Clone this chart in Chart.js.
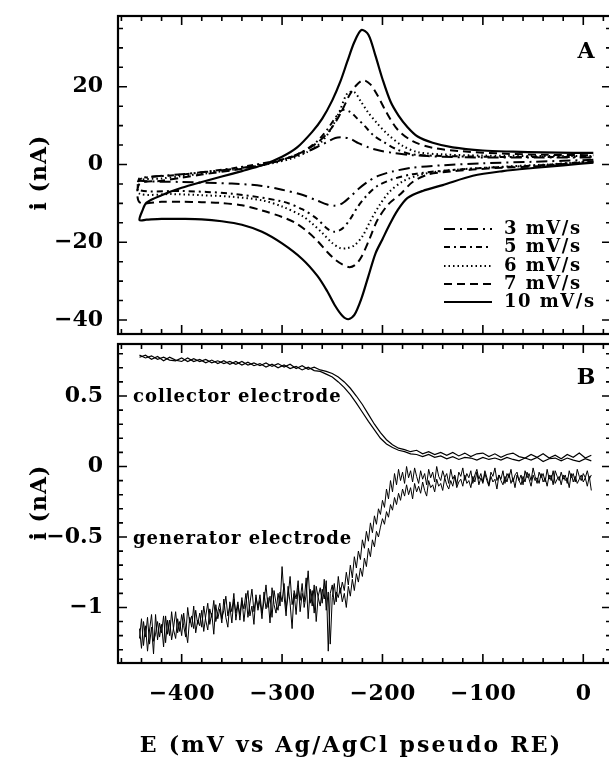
<!DOCTYPE html>
<html>
<head>
<meta charset="utf-8">
<script src="https://cdn.jsdelivr.net/npm/chart.js@4.4.1/dist/chart.umd.min.js"></script>
<style>
  html, body { margin: 0; padding: 0; background: #fff; overflow: hidden; width: 609px; height: 767px; }
  #boxA { position: absolute; left: 0; top: 0; }
  #boxB { position: absolute; left: 0; top: 340px; }
</style>
</head>
<body>
<div id="boxA"><canvas id="chartA" width="620" height="340"></canvas></div>
<div id="boxB"><canvas id="chartB" width="620" height="427"></canvas></div>
<script>
// ---- panel A: cyclic voltammograms (E in mV, i in nA), scan starts at +10 going negative ----
const scanRates = ['3 mV/s', '5 mV/s', '6 mV/s', '7 mV/s', '10 mV/s'];

const cv3E = [10,-50,-100,-140,-170,-190,-205,-215,-224,-232,-240,-248,-255,-265,-280,-300,-320,-350,-400,-442,
              -442,-400,-350,-320,-300,-280,-265,-255,-247,-240,-232,-224,-214,-203,-190,-170,-140,-100,-50,10];
const cv3I = [1.2,0.7,0.3,-0.2,-0.8,-1.8,-3.0,-4.5,-6.3,-8.3,-10.0,-10.6,-10.3,-9.3,-7.8,-6.5,-5.5,-4.9,-4.5,-4.2,
              -3.5,-2.5,-1.2,0.0,1.2,2.8,4.5,5.8,6.8,7.0,6.6,5.5,4.4,3.6,3.0,2.4,2.0,1.8,1.8,1.8];

const cv5E = [10,-50,-100,-140,-170,-190,-205,-215,-225,-232,-240,-248,-255,-265,-280,-300,-350,-400,-442,
              -442,-400,-350,-300,-280,-265,-255,-247,-240,-232,-225,-218,-209,-199,-185,-170,-140,-100,-50,10];
const cv5I = [0.8,-0.3,-0.9,-1.6,-2.5,-3.8,-5.5,-7.8,-11.0,-14.0,-16.5,-17.3,-16.5,-14.0,-11.5,-9.5,-7.5,-6.8,-6.6,
              -3.8,-2.6,-1.0,1.3,3.2,6.0,9.0,12.0,14.0,13.5,11.8,10.0,7.5,5.8,3.8,2.6,2.2,2.0,1.9,2.0];

const cv6E = [10,-30,-60,-90,-120,-150,-165,-180,-193,-203,-212,-220,-228,-235,-242,-250,-260,-270,-280,-300,-320,-350,-380,-410,-442,
              -442,-420,-400,-370,-340,-310,-290,-275,-262,-252,-243,-235,-228,-221,-214,-206,-195,-180,-165,-140,-100,-50,10];
const cv6I = [0.8,0.1,-0.3,-0.7,-1.2,-2.0,-2.8,-4.4,-7.0,-10.5,-14.5,-18.5,-20.8,-21.5,-21.5,-20.2,-17.6,-15.2,-13.2,-10.8,-9.2,-8.3,-7.9,-7.6,-7.5,
              -4.2,-3.6,-3.0,-2.1,-1.0,0.3,1.6,3.2,5.5,8.8,13.5,18.3,18.6,16.0,13.3,10.8,7.8,4.8,3.2,2.6,2.3,2.2,2.2];

const cv7E = [10,-20,-50,-80,-110,-140,-155,-170,-182,-194,-205,-213,-221,-227,-233,-240,-247,-255,-265,-275,-287,-300,-320,-340,-360,-380,-400,-420,-442,
              -442,-420,-400,-380,-350,-320,-300,-280,-265,-255,-247,-240,-233,-226,-219,-212,-205,-196,-185,-170,-150,-120,-80,-40,10];
const cv7I = [0.6,0.1,-0.5,-0.8,-1.3,-2.0,-2.6,-4.5,-7.6,-10.2,-14.3,-19.2,-23.8,-25.8,-26.4,-25.7,-24.5,-22.5,-19.6,-17.2,-15.0,-13.5,-11.8,-10.5,-9.9,-9.7,-9.6,-9.6,-9.7,
              -5.0,-4.2,-3.4,-2.6,-1.5,-0.2,1.2,3.2,5.6,8.0,10.8,14.0,17.8,20.4,21.7,20.6,17.8,13.4,9.0,6.0,4.3,3.4,2.8,2.5,2.4];

const cv10E = [10,-20,-50,-80,-110,-140,-160,-175,-185,-193,-200,-207,-214,-221,-228,-234,-240,-247,-255,-265,-280,-300,-320,-340,-360,-380,-400,-420,-435,-442,
               -439,-435,-420,-400,-380,-360,-340,-320,-300,-285,-270,-260,-250,-242,-235,-228,-221,-214,-207,-200,-192,-184,-175,-165,-150,-130,-100,-70,-40,-10,10];
const cv10I = [0.5,-0.2,-0.9,-1.7,-2.9,-5.3,-6.8,-8.6,-11.8,-15.5,-19.2,-22.9,-28.7,-34.5,-38.7,-39.8,-38.9,-36.4,-32.6,-28.6,-24.3,-20.3,-17.3,-15.5,-14.6,-14.1,-14.0,-14.0,-14.2,-14.3,
               -11.8,-9.8,-7.9,-6.0,-4.5,-3.1,-1.7,-0.2,2.0,4.4,8.4,11.8,16.5,21.3,26.5,31.5,34.6,33.4,28.0,22.0,16.2,12.6,9.6,7.2,5.6,4.4,3.6,3.3,3.1,3.0,3.0];

// ---- panel B: generator (2 mV sampling) and collector (6 mV sampling) currents, nA ----
const genE = [-442,-440,-438,-436,-434,-432,-430,-428,-426,-424,
  -422,-420,-418,-416,-414,-412,-410,-408,-406,-404,
  -402,-400,-398,-396,-394,-392,-390,-388,-386,-384,
  -382,-380,-378,-376,-374,-372,-370,-368,-366,-364,
  -362,-360,-358,-356,-354,-352,-350,-348,-346,-344,
  -342,-340,-338,-336,-334,-332,-330,-328,-326,-324,
  -322,-320,-318,-316,-314,-312,-310,-308,-306,-304,
  -302,-300,-298,-296,-294,-292,-290,-288,-286,-284,
  -282,-280,-278,-276,-274,-272,-270,-268,-266,-264,
  -262,-260,-258,-256,-254,-252,-250,-248,-246,-244,
  -242,-240,-238,-236,-234,-232,-230,-228,-226,-224,
  -222,-220,-218,-216,-214,-212,-210,-208,-206,-204,
  -202,-200,-198,-196,-194,-192,-190,-188,-186,-184,
  -182,-180,-178,-176,-174,-172,-170,-168,-166,-164,
  -162,-160,-158,-156,-154,-152,-150,-148,-146,-144,
  -142,-140,-138,-136,-134,-132,-130,-128,-126,-124,
  -122,-120,-118,-116,-114,-112,-110,-108,-106,-104,
  -102,-100,-98,-96,-94,-92,-90,-88,-86,-84,
  -82,-80,-78,-76,-74,-72,-70,-68,-66,-64,
  -62,-60,-58,-56,-54,-52,-50,-48,-46,-44,
  -42,-40,-38,-36,-34,-32,-30,-28,-26,-24,
  -22,-20,-18,-16,-14,-12,-10,-8,-6,-4,
  -2,0,2,4,6,8];

const genFwd = [-1.22,-1.08,-1.27,-1.13,-1.31,-1.16,-1.05,-1.24,-1.19,-1.10,
  -1.21,-1.12,-1.28,-1.06,-1.19,-1.09,-1.23,-1.14,-1.03,-1.18,
  -1.10,-1.20,-1.04,-1.16,-1.25,-1.07,-1.14,-0.99,-1.18,-1.09,
  -1.13,-1.02,-1.17,-1.06,-0.97,-1.12,-1.04,-1.19,-0.98,-1.08,
  -1.01,-1.11,-0.94,-1.07,-1.14,-0.96,-1.03,-0.90,-1.09,-0.98,
  -1.05,-0.93,-1.10,-0.97,-0.88,-1.06,-0.99,-1.12,-0.91,-1.02,
  -0.95,-1.08,-0.89,-1.01,-0.93,-1.11,-0.86,-0.98,-1.04,-0.90,
  -0.99,-0.71,-0.92,-1.06,-0.85,-0.97,-1.15,-0.88,-0.94,-0.81,
  -1.03,-0.90,-0.96,-0.79,-1.08,-0.87,-0.99,-0.84,-1.10,-0.92,
  -0.86,-0.97,-0.80,-1.02,-0.89,-1.26,-0.93,-0.83,-0.96,-0.78,
  -0.90,-0.82,-0.88,-0.75,-0.84,-0.70,-0.79,-0.64,-0.72,-0.60,
  -0.66,-0.52,-0.58,-0.46,-0.53,-0.40,-0.47,-0.35,-0.41,-0.30,
  -0.34,-0.24,-0.29,-0.16,-0.23,-0.10,-0.18,-0.05,-0.13,-0.02,
  -0.10,-0.04,-0.12,0.00,-0.08,-0.03,-0.11,-0.01,-0.07,-0.12,
  -0.03,-0.09,-0.05,-0.13,-0.02,-0.08,-0.04,-0.11,0.00,-0.07,
  -0.10,-0.03,-0.08,-0.05,-0.12,-0.02,-0.09,-0.06,-0.13,-0.04,
  -0.07,-0.01,-0.10,-0.05,-0.08,-0.03,-0.12,-0.06,-0.02,-0.09,
  -0.05,-0.11,-0.03,-0.08,-0.13,-0.04,-0.07,-0.01,-0.10,-0.06,
  -0.09,-0.03,-0.12,-0.05,-0.08,-0.02,-0.11,-0.06,-0.04,-0.10,
  -0.06,-0.13,-0.03,-0.08,-0.05,-0.10,-0.01,-0.07,-0.12,-0.04,
  -0.08,-0.05,-0.11,-0.02,-0.09,-0.06,-0.13,-0.03,-0.07,-0.10,
  -0.04,-0.09,-0.06,-0.12,-0.03,-0.08,-0.05,-0.11,-0.02,-0.07,
  -0.10,-0.05,-0.08,-0.03,-0.09,-0.06];

const genRev = [-1.15,-1.29,-1.10,-1.21,-1.07,-1.26,-1.14,-1.33,-1.05,-1.23,
  -1.11,-1.18,-1.06,-1.25,-1.09,-1.20,-1.03,-1.16,-1.22,-1.08,
  -1.17,-1.05,-1.13,-1.21,-1.00,-1.11,-1.06,-1.15,-1.02,-1.12,
  -1.04,-1.14,-0.99,-1.09,-1.16,-1.01,-1.07,-0.95,-1.10,-1.03,
  -0.97,-1.08,-1.02,-0.92,-1.06,-0.99,-1.11,-0.94,-1.04,-0.96,
  -1.09,-0.95,-1.01,-0.90,-1.07,-0.97,-0.87,-1.03,-0.93,-1.00,
  -0.91,-1.04,-0.96,-0.84,-1.00,-0.92,-1.07,-0.88,-0.97,-1.02,
  -0.89,-0.96,-0.83,-1.01,-0.92,-0.78,-0.98,-0.90,-1.05,-0.86,
  -0.95,-0.83,-1.00,-0.91,-0.74,-0.97,-0.88,-1.04,-0.85,-0.93,
  -0.99,-0.87,-0.94,-0.81,-1.31,-0.90,-0.84,-0.98,-0.89,-0.93,
  -0.86,-0.96,-0.90,-1.00,-0.85,-0.92,-0.80,-0.88,-0.76,-0.82,
  -0.72,-0.78,-0.65,-0.71,-0.58,-0.64,-0.52,-0.57,-0.46,-0.50,
  -0.43,-0.37,-0.41,-0.32,-0.36,-0.27,-0.31,-0.22,-0.27,-0.19,
  -0.24,-0.16,-0.21,-0.13,-0.20,-0.15,-0.23,-0.12,-0.18,-0.14,
  -0.19,-0.11,-0.17,-0.21,-0.10,-0.15,-0.13,-0.18,-0.09,-0.14,
  -0.12,-0.17,-0.08,-0.13,-0.16,-0.10,-0.14,-0.07,-0.15,-0.11,
  -0.09,-0.14,-0.06,-0.12,-0.10,-0.15,-0.07,-0.11,-0.04,-0.13,
  -0.08,-0.12,-0.05,-0.10,-0.14,-0.07,-0.11,-0.09,-0.16,-0.06,
  -0.10,-0.13,-0.07,-0.11,-0.05,-0.12,-0.08,-0.15,-0.06,-0.10,
  -0.13,-0.07,-0.11,-0.04,-0.09,-0.14,-0.06,-0.10,-0.08,-0.12,
  -0.05,-0.11,-0.08,-0.14,-0.06,-0.10,-0.03,-0.12,-0.09,-0.07,
  -0.13,-0.06,-0.10,-0.08,-0.15,-0.05,-0.11,-0.07,-0.12,-0.09,
  -0.06,-0.11,-0.08,-0.14,-0.07,-0.17];

const colE = [-442,-436,-430,-424,-418,-412,-406,-400,-394,-388,
  -382,-376,-370,-364,-358,-352,-346,-340,-334,-328,
  -322,-316,-310,-304,-298,-292,-286,-280,-274,-268,
  -262,-256,-250,-244,-238,-232,-226,-220,-214,-208,
  -202,-196,-190,-184,-178,-172,-166,-160,-154,-148,
  -142,-136,-130,-124,-118,-112,-106,-100,-94,-88,
  -82,-76,-70,-64,-58,-52,-46,-40,-34,-28,
  -22,-16,-10,-4,2,8];

const colFwd = [0.79,0.77,0.785,0.76,0.775,0.755,0.75,0.77,0.745,0.765,
  0.745,0.76,0.735,0.75,0.73,0.745,0.725,0.745,0.72,0.735,
  0.715,0.735,0.71,0.73,0.705,0.725,0.695,0.715,0.69,0.705,
  0.685,0.675,0.66,0.635,0.60,0.555,0.50,0.44,0.37,0.30,
  0.24,0.19,0.155,0.13,0.12,0.105,0.115,0.09,0.105,0.085,
  0.10,0.08,0.10,0.075,0.095,0.07,0.09,0.095,0.07,0.09,
  0.065,0.085,0.095,0.07,0.06,0.085,0.065,0.09,0.06,0.08,
  0.055,0.085,0.065,0.095,0.06,0.08];

const colRev = [0.775,0.79,0.76,0.78,0.75,0.775,0.755,0.745,0.77,0.745,
  0.76,0.735,0.755,0.73,0.75,0.725,0.745,0.72,0.74,0.715,
  0.73,0.705,0.725,0.70,0.72,0.695,0.71,0.685,0.705,0.68,
  0.675,0.655,0.635,0.60,0.56,0.51,0.45,0.385,0.32,0.26,
  0.20,0.16,0.135,0.115,0.105,0.09,0.085,0.07,0.085,0.065,
  0.075,0.055,0.07,0.05,0.065,0.06,0.045,0.065,0.05,0.06,
  0.045,0.065,0.05,0.04,0.06,0.045,0.065,0.035,0.055,0.06,
  0.04,0.06,0.045,0.035,0.055,0.04];

// ---- axes ----
const xTicks = [-400, -300, -200, -100, 0];
const yTicksA = [20, 0, -20, -40];
const yTicksB = [0.5, 0, -0.5, -1];
const xRange = [-463.4, 27.6];
const yRangeA = [-43.6, 38.2];
const yRangeB = [-1.394, 0.869];

const SERIF = '"DejaVu Serif", "Liberation Serif", serif';

function pairs(xs, ys) {
  return xs.map((x, k) => ({ x: x, y: ys[k] }));
}

function minusSign(v) {
  return String(v).replace('-', '\u2212');
}

function putText(ctx, str, x, y, font, align, spacing) {
  ctx.font = font;
  ctx.letterSpacing = spacing + 'px';
  ctx.textAlign = align;
  ctx.textBaseline = 'middle';
  // canvas adds the spacing after every glyph, shift back so the ink sits where asked
  let dx = 0;
  if (align === 'right') dx = spacing;
  if (align === 'center') dx = spacing / 2;
  ctx.fillText(str, x + dx, y);
}

// frame, inward ticks on all four sides and the tick labels
function makeFrame(cfg) {
  return {
    id: 'frame' + cfg.name,
    afterDatasetsDraw(chart) {
      const ctx = chart.ctx;
      const a = chart.chartArea;
      const xs = chart.scales.x;
      const ys = chart.scales.y;
      ctx.save();
      ctx.strokeStyle = '#000';
      ctx.fillStyle = '#000';
      ctx.lineWidth = 1.6;
      ctx.beginPath();
      for (let k = Math.ceil(xs.min / 20); k * 20 <= xs.max; k++) {
        const px = xs.getPixelForValue(k * 20);
        const len = (k % 5 === 0) ? 9 : 5;
        ctx.moveTo(px, a.bottom); ctx.lineTo(px, a.bottom - len);
        ctx.moveTo(px, a.top); ctx.lineTo(px, a.top + len);
      }
      for (let k = Math.ceil(ys.min / cfg.yMinor - 1e-6); k * cfg.yMinor <= ys.max + 1e-6; k++) {
        const py = ys.getPixelForValue(k * cfg.yMinor);
        const len = (k % cfg.majorEvery === 0) ? 9 : 5;
        ctx.moveTo(a.left, py); ctx.lineTo(a.left + len, py);
        ctx.moveTo(a.right, py); ctx.lineTo(a.right - len, py);
      }
      ctx.stroke();
      ctx.lineWidth = 2.2;
      ctx.strokeRect(a.left, a.top, a.right - a.left, a.bottom - a.top);

      cfg.yTicks.forEach(v => {
        putText(ctx, minusSign(v), a.left - 15, ys.getPixelForValue(v), 'bold 22px ' + SERIF, 'right', 0);
      });
      if (cfg.xLabels) {
        xTicks.forEach(v => {
          putText(ctx, minusSign(v), xs.getPixelForValue(v), a.bottom + 31, 'bold 22px ' + SERIF, 'center', 0.5);
        });
        putText(ctx, 'E (mV vs Ag/AgCl pseudo RE)', 350, a.bottom + 83, 'bold 22px ' + SERIF, 'center', 2.2);
      }
      // y title, rotated
      ctx.save();
      ctx.translate(40, cfg.yTitleY);
      ctx.rotate(-Math.PI / 2);
      putText(ctx, 'i (nA)', 0, 0, 'bold 22px ' + SERIF, 'center', 1);
      ctx.restore();

      putText(ctx, cfg.letter, 586, cfg.letterY, 'bold 22px ' + SERIF, 'center', 0);
      if (cfg.extra) cfg.extra(chart, ctx);
      ctx.restore();
    }
  };
}

function baseOptions(padding, yRange) {
  return {
    responsive: false,
    devicePixelRatio: 1,
    animation: false,
    layout: { padding: padding },
    plugins: { legend: { display: false }, tooltip: { enabled: false } },
    elements: { point: { radius: 0 } },
    scales: {
      x: { type: 'linear', min: xRange[0], max: xRange[1], display: false },
      y: { type: 'linear', min: yRange[0], max: yRange[1], display: false }
    }
  };
}

// ---- chart A ----
const cvSets = [
  { E: cv3E, I: cv3I, dash: [11, 5, 2, 5], width: 2 },
  { E: cv5E, I: cv5I, dash: [6, 4, 2, 4], width: 2 },
  { E: cv6E, I: cv6I, dash: [1.5, 3], width: 2 },
  { E: cv7E, I: cv7I, dash: [8, 5], width: 2 },
  { E: cv10E, I: cv10I, dash: [], width: 2.2 }
];

const legendRows = [229, 247, 266, 284, 302];

new Chart(document.getElementById('chartA'), {
  type: 'line',
  data: {
    datasets: cvSets.map((s, k) => ({
      label: scanRates[k],
      data: pairs(s.E, s.I),
      borderColor: '#000',
      borderWidth: s.width,
      borderDash: s.dash,
      tension: 0.3,
      fill: false
    }))
  },
  options: baseOptions({ left: 118, top: 16, right: 9, bottom: 6 }, yRangeA),
  plugins: [makeFrame({
    name: 'A', yMinor: 5, majorEvery: 4, yTicks: yTicksA, xLabels: false,
    yTitleY: 173, letter: 'A', letterY: 52,
    extra: (chart, ctx) => {
      chart.data.datasets.forEach((ds, k) => {
        const y = legendRows[k];
        ctx.save();
        ctx.lineWidth = ds.borderWidth;
        ctx.setLineDash(ds.borderDash);
        ctx.beginPath();
        ctx.moveTo(444, y);
        ctx.lineTo(492, y);
        ctx.stroke();
        ctx.restore();
        putText(ctx, ds.label, 504, y, 'bold 18px ' + SERIF, 'left', 1.5);
      });
    }
  })]
});

// ---- chart B ----
const traceB = (E, I, w) => ({
  data: pairs(E, I),
  borderColor: '#000',
  borderWidth: w,
  tension: 0,
  fill: false
});

new Chart(document.getElementById('chartB'), {
  type: 'line',
  data: {
    datasets: [
      traceB(colE, colFwd, 1.2),
      traceB(colE, colRev, 1.2),
      traceB(genE, genFwd, 1),
      traceB(genE, genRev, 1)
    ]
  },
  options: baseOptions({ left: 118, top: 4, right: 9, bottom: 104 }, yRangeB),
  plugins: [makeFrame({
    name: 'B', yMinor: 0.1, majorEvery: 5, yTicks: yTicksB, xLabels: true,
    yTitleY: 163, letter: 'B', letterY: 38,
    extra: (chart, ctx) => {
      const xs = chart.scales.x, ys = chart.scales.y;
      putText(ctx, 'collector electrode', xs.getPixelForValue(-448.5), ys.getPixelForValue(0.49), 'bold 18px ' + SERIF, 'left', 1);
      putText(ctx, 'generator electrode', xs.getPixelForValue(-448.5), ys.getPixelForValue(-0.52), 'bold 18px ' + SERIF, 'left', 1);
    }
  })]
});
</script>
</body>
</html>
